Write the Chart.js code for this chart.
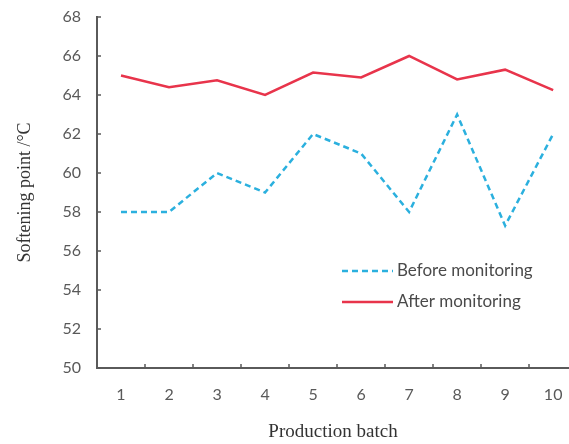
<!DOCTYPE html>
<html>
<head>
<meta charset="utf-8">
<script src="https://cdn.jsdelivr.net/npm/chart.js@4/dist/chart.umd.min.js"></script>
<style>
html,body{margin:0;padding:0;background:#fff;}
#wrap{width:569px;height:444px;position:relative;}
</style>
</head>
<body>
<div id="wrap"><canvas id="c" width="569" height="444"></canvas></div>
<script>
const batches = [1, 2, 3, 4, 5, 6, 7, 8, 9, 10];
const beforeMonitoring = [58, 58, 60, 59, 62, 61, 58, 63, 57.3, 62];
const afterMonitoring = [65.0, 64.4, 64.75, 64.0, 65.15, 64.9, 66.0, 64.8, 65.3, 64.25];
const yTicks = [50, 52, 54, 56, 58, 60, 62, 64, 66, 68];
const seriesLabels = ['Before monitoring', 'After monitoring'];
const axisTitles = {x: 'Production batch', y: 'Softening point /\u00B0C'};

const axisColor = '#5a5a5a';
const tickFont = {family: 'Lato', size: 16};

const innerTicks = {
  id: 'innerTicks',
  afterDraw(chart) {
    const ctx = chart.ctx;
    const xs = chart.scales.x, ys = chart.scales.y;
    const area = chart.chartArea;
    ctx.save();
    ctx.strokeStyle = axisColor;
    ctx.lineWidth = 1.5;
    ctx.beginPath();
    for (let i = 0; i < batches.length - 1; i++) {
      const px = Math.round((xs.getPixelForValue(batches[i]) + xs.getPixelForValue(batches[i + 1])) / 2);
      ctx.moveTo(px, area.bottom);
      ctx.lineTo(px, area.bottom - 4);
    }
    yTicks.forEach(v => {
      const py = Math.round(ys.getPixelForValue(v));
      ctx.moveTo(area.left, py);
      ctx.lineTo(area.left + 4, py);
    });
    ctx.stroke();
    ctx.restore();
  }
};

const customLegend = {
  id: 'customLegend',
  afterDraw(chart) {
    const ctx = chart.ctx;
    const rows = [271, 302];
    ctx.save();
    chart.data.datasets.forEach((ds, i) => {
      const y = rows[i];
      ctx.strokeStyle = ds.borderColor;
      ctx.lineWidth = ds.borderWidth;
      ctx.setLineDash(ds.borderDash || []);
      ctx.beginPath();
      ctx.moveTo(342, y);
      ctx.lineTo(393, y);
      ctx.stroke();
      ctx.setLineDash([]);
      ctx.fillStyle = '#4a4a4a';
      ctx.font = '17px Lato';
      ctx.textBaseline = 'middle';
      ctx.textAlign = 'left';
      ctx.fillText(ds.label, 397, y);
    });
    ctx.restore();
  }
};

new Chart(document.getElementById('c'), {
  type: 'line',
  data: {
    datasets: [
      {
        label: seriesLabels[0],
        data: batches.map((b, i) => ({x: b, y: beforeMonitoring[i]})),
        borderColor: '#2bb0de',
        borderWidth: 2.5,
        borderDash: [6, 4],
        pointRadius: 0,
        tension: 0,
        fill: false
      },
      {
        label: seriesLabels[1],
        data: batches.map((b, i) => ({x: b, y: afterMonitoring[i]})),
        borderColor: '#e8344b',
        borderWidth: 2.5,
        pointRadius: 0,
        tension: 0,
        fill: false
      }
    ]
  },
  options: {
    responsive: false,
    animation: false,
    layout: {padding: {top: 17, right: 0, left: 0, bottom: 0}},
    plugins: {legend: {display: false}, tooltip: {enabled: false}},
    scales: {
      x: {
        type: 'linear',
        min: 0.5,
        max: 10.33,
        afterBuildTicks: s => { s.ticks = batches.map(v => ({value: v})); },
        afterFit: s => { s.height = 76; s.paddingLeft = 0; s.paddingRight = 0; },
        grid: {display: false, drawTicks: false},
        border: {display: true, color: axisColor, width: 2},
        ticks: {color: '#595959', font: tickFont, padding: 17, autoSkip: false, maxRotation: 0},
        title: {display: true, text: axisTitles.x, color: '#333', font: {family: 'Liberation Serif', size: 19}, padding: {top: 0, bottom: 1}}
      },
      y: {
        min: 50,
        max: 68,
        afterBuildTicks: s => { s.ticks = yTicks.map(v => ({value: v})); },
        afterFit: s => { s.width = 97; s.paddingTop = 0; s.paddingBottom = 0; },
        grid: {display: false, drawTicks: false},
        border: {display: true, color: axisColor, width: 2},
        ticks: {color: '#595959', font: tickFont, padding: 16},
        title: {display: true, text: axisTitles.y, color: '#333', font: {family: 'Liberation Serif', size: 18}, padding: {top: 14, bottom: 0}}
      }
    }
  },
  plugins: [innerTicks, customLegend]
});
</script>
</body>
</html>
